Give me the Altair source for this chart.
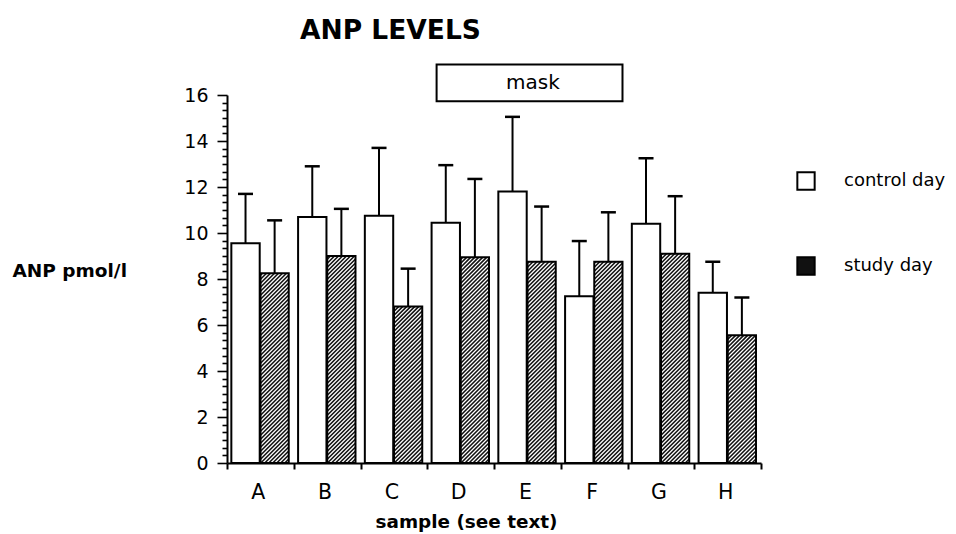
import json

import altair as alt
import pandas as pd

# ---- data ----
samples = ["A", "B", "C", "D", "E", "F", "G", "H"]
series_names = ["control day", "study day"]
control_mean = [9.55, 10.7, 10.75, 10.45, 11.8, 7.25, 10.4, 7.4]
control_sd = [2.15, 2.2, 2.95, 2.5, 3.25, 2.4, 2.85, 1.35]
study_mean = [8.25, 9.0, 6.8, 8.95, 8.75, 8.75, 9.1, 5.55]
study_sd = [2.3, 2.05, 1.65, 3.4, 2.4, 2.15, 2.5, 1.65]
mask_label = "mask"
mask_samples = ["D", "E", "F"]

# ---- layout / style ----
WIDTH, HEIGHT = 534, 368
Y_MAX = 16
N = len(samples)
KX = WIDTH / N          # px per sample slot
KY = HEIGHT / Y_MAX     # px per pmol/l
CTRL_LO, CTRL_HI = 0.065, 0.49
STUDY_LO, STUDY_HI = 0.502, 0.925
HATCH_STEP = 4.0        # px between hatch lines
FONT = "DejaVu Sans"

rows = []
for i, s in enumerate(samples):
    rows.append(dict(sample=s, series=series_names[0], idx=i,
                     mean=control_mean[i], sd=control_sd[i]))
    rows.append(dict(sample=s, series=series_names[1], idx=i,
                     mean=study_mean[i], sd=study_sd[i]))
df = pd.DataFrame(rows)

mask_df = pd.DataFrame([{
    "label": mask_label,
    "first": samples.index(mask_samples[0]),
    "last": samples.index(mask_samples[-1]),
}])

xscale = alt.Scale(domain=[0, N], nice=False, zero=False)
yscale = alt.Scale(domain=[0, Y_MAX], nice=False)

ctrl = series_names[0]
study = series_names[1]

base = alt.Chart(df).transform_calculate(
    x0=f"datum.idx + (datum.series === '{ctrl}' ? {CTRL_LO} : {STUDY_LO})",
    x1=f"datum.idx + (datum.series === '{ctrl}' ? {CTRL_HI} : {STUDY_HI})",
    xc="(datum.x0 + datum.x1) / 2",
    top="datum.mean + datum.sd",
    zero="0",
)

is_major = "abs(datum.value / 2 - round(datum.value / 2)) < 0.01"
y_ticks = [round(k / 3, 4) for k in range(3 * Y_MAX + 1)]

x_axis = alt.Axis(
    values=list(range(N + 1)),
    labelExpr=f"datum.value < {N} ? {json.dumps(samples)}[datum.value] : ''",
    labelOffset=KX / 2 - 2.5,
    labelFlush=False,
    labelFont=FONT, labelFontSize=20.5, labelColor="black", labelPadding=13,
    labelOverlap=False,
    tickSize=6, tickWidth=2, tickColor="black",
    domainColor="black", domainWidth=2,
    grid=False,
    title="sample (see text)",
    titleFont=FONT, titleFontSize=18.4, titleFontWeight="bold", titleColor="black",
    titleAlign="center", titleBaseline="alphabetic",
    titleX=239, titleY=64,
)

y_axis = alt.Axis(
    values=y_ticks,
    labelExpr=f"{is_major} ? format(datum.value, '.0f') : ''",
    labelFont=FONT, labelFontSize=19, labelColor="black", labelPadding=9,
    labelOverlap=False,
    labelFlush=False,
    tickSize={"condition": {"test": is_major, "value": 10}, "value": 5},
    tickWidth=1.6, tickColor="black",
    domainColor="black", domainWidth=2,
    grid=False,
    title="ANP  pmol/l",
    titleFont=FONT, titleFontSize=18.5, titleFontWeight="bold", titleColor="black",
    titleAngle=0, titleAlign="left", titleBaseline="middle",
    titleX=-215, titleY=175,
)


def xq(field):
    return alt.X(field, type="quantitative", scale=xscale, axis=x_axis)


def yq(field):
    return alt.Y(field, type="quantitative", scale=yscale, axis=y_axis)


bars = base.mark_rect().encode(
    x=xq("x0"),
    x2="x1:Q",
    y=yq("mean"),
    y2="zero:Q",
    fill=alt.Fill(
        "series:N",
        scale=alt.Scale(domain=series_names, range=["white", "#111111"]),
        legend=alt.Legend(
            title=None, orient="none", direction="vertical",
            legendX=569, legendY=76,
            symbolType="square", symbolSize=300,
            symbolStrokeColor="black", symbolStrokeWidth=2, symbolOpacity=1,
            labelFont=FONT, labelFontSize=18, labelColor="black",
            labelOffset=28, rowPadding=59,
        ),
    ),
)

# diagonal hatching of the study-day bars, clipped to each bar
hatch = base.transform_filter(f"datum.series === '{study}'").transform_calculate(
    W=f"(datum.x1 - datum.x0) * {KX}",
    H=f"datum.mean * {KY}",
    cs=f"sequence(-datum.W + {HATCH_STEP / 2}, datum.H, {HATCH_STEP})",
).transform_flatten(["cs"], as_=["c"]).transform_calculate(
    X0="max(0, -datum.c)",
    X1="min(datum.W, datum.H - datum.c)",
).transform_filter("datum.X1 > datum.X0").transform_calculate(
    hx=f"datum.x0 + datum.X0 / {KX}",
    hx2=f"datum.x0 + datum.X1 / {KX}",
    hy=f"(datum.X0 + datum.c) / {KY}",
    hy2=f"(datum.X1 + datum.c) / {KY}",
).mark_rule(color="white", strokeWidth=1.25).encode(
    x=xq("hx"),
    x2="hx2:Q",
    y=yq("hy"),
    y2="hy2:Q",
)

outline = base.mark_rect(fillOpacity=0, stroke="black", strokeWidth=2).encode(
    x=xq("x0"),
    x2="x1:Q",
    y=yq("mean"),
    y2="zero:Q",
)

err = base.mark_rule(color="black", strokeWidth=2).encode(
    x=xq("xc"),
    y=yq("mean"),
    y2="top:Q",
)

caps = base.mark_tick(orient="horizontal", size=15, thickness=2.5,
                      color="black", opacity=1).encode(
    x=xq("xc"),
    y=yq("top"),
)

mask_base = alt.Chart(mask_df).transform_calculate(
    mx0="datum.first + 0.14",
    mx1=f"datum.last + {STUDY_HI}",
    my0="15.73",
    my1="17.33",
    mxc="(datum.mx0 + datum.mx1) / 2 + 0.05",
    myc="(datum.my0 + datum.my1) / 2",
)

mask_box = mask_base.mark_rect(fill="white", stroke="black", strokeWidth=2).encode(
    x=xq("mx0"),
    x2="mx1:Q",
    y=yq("my0"),
    y2="my1:Q",
)

mask_text = mask_base.mark_text(font=FONT, fontSize=20, color="black",
                                baseline="middle", align="center").encode(
    x=xq("mxc"),
    y=yq("myc"),
    text="label:N",
)

chart = alt.layer(
    bars, hatch, outline, err, caps, mask_box, mask_text
).properties(
    width=WIDTH,
    height=HEIGHT,
    autosize=alt.AutoSizeParams(type="none"),
    padding={"left": 227, "top": 95, "right": 195, "bottom": 71},
    title=alt.TitleParams(
        text="ANP LEVELS", anchor="start", frame="group", dx=73,
        font=FONT, fontSize=26.5, fontWeight="bold", color="black", offset=19,
    ),
).configure_view(strokeWidth=0)

chart.save("out.html", embed_options={"renderer": "svg", "actions": False})
